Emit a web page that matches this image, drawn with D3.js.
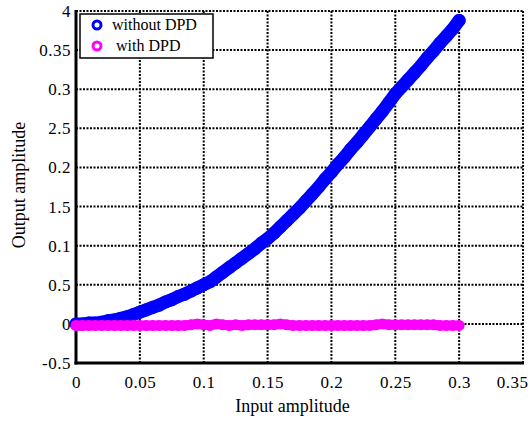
<!DOCTYPE html>
<html>
<head>
<meta charset="utf-8">
<script src="https://cdn.jsdelivr.net/npm/d3@7/dist/d3.min.js"></script>
<style>
  html, body { margin: 0; padding: 0; background: #fff; }
  #chart text { font-family: 'Liberation Serif', 'Times New Roman', Times, serif; fill: #000; }
</style>
</head>
<body>
<svg id="chart" width="531" height="421"></svg>
<script>
// Input amplitude samples (step 0.005)
const inputAmp = d3.range(61).map(i => +(i * 0.005).toFixed(3));

// Output amplitude of the PA without predistortion
const withoutDPD = [
  0.00, 0.00, 0.01, 0.01, 0.02, 0.04, 0.05, 0.07, 0.09, 0.12,
  0.15, 0.18, 0.21, 0.24, 0.28, 0.31, 0.35, 0.38, 0.42, 0.46,
  0.50, 0.54, 0.60, 0.66, 0.72, 0.78, 0.84, 0.90, 0.96, 1.03,
  1.09, 1.16, 1.24, 1.32, 1.40, 1.48, 1.57, 1.66, 1.75, 1.85,
  1.94, 2.04, 2.13, 2.23, 2.32, 2.42, 2.52, 2.62, 2.72, 2.83,
  2.94, 3.03, 3.12, 3.21, 3.30, 3.40, 3.49, 3.59, 3.68, 3.77,
  3.88
];

// Output amplitude with predistortion applied
const withDPD = [
  -0.02, -0.02, -0.02, -0.02, -0.02, -0.02, -0.02, -0.02, -0.02, -0.02,
  -0.02, -0.02, -0.02, -0.02, -0.02, -0.02, -0.02, -0.02, -0.01, 0.00,
  -0.01, -0.02, 0.00, -0.01, -0.02, -0.01, -0.02, -0.01, -0.01, -0.01,
  -0.01, -0.01, 0.00, -0.01, -0.02, -0.02, -0.02, -0.02, -0.02, -0.02,
  -0.02, -0.02, -0.02, -0.02, -0.02, -0.02, -0.02, -0.01, 0.00, -0.01,
  -0.01, -0.01, -0.01, -0.01, -0.01, -0.01, -0.01, -0.02, -0.02, -0.02,
  -0.02
];

const xTicks = [0, 0.05, 0.1, 0.15, 0.2, 0.25, 0.3, 0.35];
const xTickLabels = ["0", "0.05", "0.1", "0.15", "0.2", "0.25", "0.3", "0.35"];
const yTicks = [-0.5, 0, 0.5, 1, 1.5, 2, 2.5, 3, 3.5, 4];
const yTickLabels = ["-0.5", "0", "0.5", "0.1", "1.5", "0.2", "2.5", "0.3", "0.35", "4"];

const seriesNames = ["without DPD", "with DPD"];
const seriesColors = ["#0000ff", "#ff00ff"];

const serif = "'Liberation Serif', 'Times New Roman', Times, serif";
const svg = d3.select("#chart");
const plot = { left: 76, right: 523, top: 11, bottom: 363 };

const x = d3.scaleLinear().domain([0, 0.35]).range([plot.left, plot.right]);
const y = d3.scaleLinear().domain([-0.5, 4]).range([plot.bottom, plot.top]);

// dotted grid
const grid = svg.append("g")
  .attr("stroke", "#000")
  .attr("stroke-width", 2)
  .attr("stroke-dasharray", "2,1.5");
grid.selectAll("line.gx").data(xTicks).join("line")
  .attr("x1", d => x(d)).attr("x2", d => x(d))
  .attr("y1", plot.top).attr("y2", plot.bottom);
grid.selectAll("line.gy").data(yTicks).join("line")
  .attr("y1", d => y(d)).attr("y2", d => y(d))
  .attr("x1", plot.left).attr("x2", plot.right);

// axes (labels only; grid supplies the tick positions)
const xAxis = d3.axisBottom(x).tickValues(xTicks)
  .tickFormat((d, i) => xTickLabels[i]).tickSize(0).tickPadding(13);
const gx = svg.append("g").attr("transform", `translate(0,${plot.bottom})`).call(xAxis)
  .attr("font-family", serif).attr("font-size", 17);
gx.select(".domain").remove();
gx.selectAll("text").style("font-family", serif)
  .style("letter-spacing", "0.5px").attr("dy", "0.71em");
gx.selectAll(".tick").filter(d => d === 0.35).select("text")
  .attr("text-anchor", "end").attr("x", 528 - x(0.35));

const yAxis = d3.axisLeft(y).tickValues(yTicks)
  .tickFormat((d, i) => yTickLabels[i]).tickSize(0).tickPadding(5);
const gy = svg.append("g").attr("transform", `translate(${plot.left},0)`).call(yAxis)
  .attr("font-family", serif).attr("font-size", 17);
gy.select(".domain").remove();
gy.selectAll("text").style("font-family", serif).style("letter-spacing", "0.5px");

// solid left and bottom axis lines
svg.append("line").attr("x1", plot.left).attr("x2", plot.left)
  .attr("y1", plot.top - 1).attr("y2", plot.bottom + 1.5)
  .attr("stroke", "#000").attr("stroke-width", 3);
svg.append("line").attr("x1", plot.left - 1.5).attr("x2", plot.right + 1)
  .attr("y1", plot.bottom).attr("y2", plot.bottom)
  .attr("stroke", "#000").attr("stroke-width", 3);

// data series: thick band of circle markers
const series = [withoutDPD, withDPD];
const line = d3.line().x(d => x(d[0])).y(d => y(d[1]));
series.forEach((vals, s) => {
  const pts = inputAmp.map((v, i) => [v, vals[i]]);
  const g = svg.append("g");
  g.append("path").datum(pts)
    .attr("d", line)
    .attr("fill", "none")
    .attr("stroke", seriesColors[s])
    .attr("stroke-width", s === 0 ? 13 : 10)
    .attr("stroke-linecap", "round")
    .attr("stroke-linejoin", "round");
  g.selectAll("circle").data(pts).join("circle")
    .attr("cx", d => x(d[0])).attr("cy", d => y(d[1]))
    .attr("r", s === 0 ? 5 : 4)
    .attr("fill", "none")
    .attr("stroke", seriesColors[s])
    .attr("stroke-width", 3);
});

// axis titles
svg.append("text").attr("x", (plot.left + plot.right) / 2 - 7).attr("y", 412)
  .attr("text-anchor", "middle").attr("font-size", 18)
  .style("font-family", serif)
  .text("Input amplitude");
svg.append("text")
  .attr("transform", `translate(25,${(plot.top + plot.bottom) / 2 - 2}) rotate(-90)`)
  .attr("text-anchor", "middle").attr("font-size", 18)
  .style("font-family", serif)
  .text("Output amplitude");

// legend
const lg = svg.append("g");
lg.append("rect").attr("x", 80).attr("y", 14).attr("width", 133).attr("height", 44)
  .attr("fill", "#fff").attr("stroke", "#000").attr("stroke-width", 1.5);
seriesNames.forEach((name, i) => {
  const cy = 25 + i * 21;
  lg.append("circle").attr("cx", 97).attr("cy", cy).attr("r", 4)
    .attr("fill", "none").attr("stroke", seriesColors[i]).attr("stroke-width", 3);
  lg.append("text").attr("x", i === 0 ? 112 : 116).attr("y", cy + 5)
    .attr("font-size", 16).style("font-family", serif).text(name);
});
</script>
</body>
</html>
